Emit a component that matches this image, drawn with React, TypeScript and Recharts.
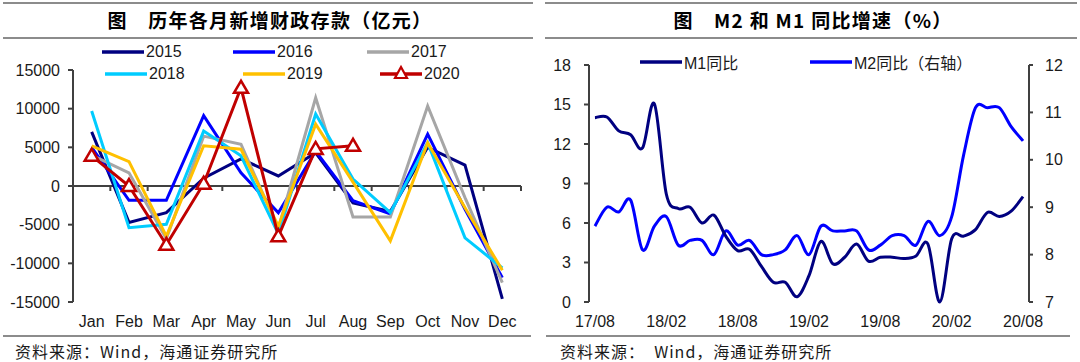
import React from 'react';
import { LineChart, Line, XAxis, YAxis, ReferenceLine } from 'recharts';

// ---------- Left chart data: 历年各月新增财政存款（亿元） ----------
const months = ['Jan', 'Feb', 'Mar', 'Apr', 'May', 'Jun', 'Jul', 'Aug', 'Sep', 'Oct', 'Nov', 'Dec'];
const years = ['2015', '2016', '2017', '2018', '2019', '2020'];
const s2015 = [7000, -4700, -3450, 1000, 3500, 1300, 4300, -2200, -3300, 5000, 2700, -14600];
const s2016 = [5000, -1850, -1850, 9100, 1700, -3450, 4500, -1900, -3600, 6700, -3000, -11850];
const s2017 = [4000, 1700, -6800, 6450, 5400, -5500, 11400, -4000, -4000, 10350, -1500, -12500];
const s2018 = [9700, -5400, -4950, 7100, 3900, -6200, 9300, 900, -3450, 5600, -6700, -10600];
const s2019 = [5200, 3150, -6500, 5200, 4750, -5200, 8000, 500, -7100, 5600, -2800, -10900];
const s2020 = [3900, 0, -7600, 300, 12700, -6500, 4800, 5200];
const leftTicks = [-15000, -10000, -5000, 0, 5000, 10000, 15000];

// ---------- Right chart data: M2 和 M1 同比增速（%） ----------
const periodTicks = ['17/08', '18/02', '18/08', '19/02', '19/08', '20/02', '20/08'];
const m1 = [14.0, 14.05, 13.0, 12.7, 11.7, 15.05, 8.2, 7.1, 7.2, 6.0, 6.6, 5.0, 3.9, 4.0, 2.7, 1.5, 1.5, 0.4, 2.0, 4.6, 2.9, 3.4, 4.4, 3.1, 3.4, 3.4, 3.3, 3.5, 4.4, 0.0, 4.8, 5.0, 5.5, 6.8, 6.5, 6.9, 8.0];
const m2 = [8.6, 9.0, 8.9, 9.15, 8.1, 8.6, 8.8, 8.2, 8.3, 8.3, 8.0, 8.5, 8.2, 8.3, 8.0, 8.0, 8.1, 8.4, 8.0, 8.6, 8.5, 8.5, 8.5, 8.1, 8.2, 8.4, 8.4, 8.2, 8.7, 8.4, 8.8, 10.1, 11.1, 11.1, 11.1, 10.7, 10.4];
const m1Ticks = [0, 3, 6, 9, 12, 15, 18];
const m2Ticks = [7, 8, 9, 10, 11, 12];

const seriesByYear: Record<string, number[]> = {
  '2015': s2015, '2016': s2016, '2017': s2017, '2018': s2018, '2019': s2019, '2020': s2020,
};
const yearColors: Record<string, string> = {
  '2015': '#000080', '2016': '#0000FF', '2017': '#A6A6A6', '2018': '#00CCFF', '2019': '#FFC000', '2020': '#C00000',
};

const leftData = months.map((m, i) => {
  const row: Record<string, number | null> = { m: i + 1 };
  years.forEach((y) => {
    const v = seriesByYear[y][i];
    row['y' + y] = v === undefined ? null : v;
  });
  return row;
});

const rightData = m1.map((v, i) => ({ i, m1: v, m2: m2[i] }));

const AXIS = '#404040';
const TXT = '#1a1a1a';
const NUMFONT = '"Liberation Sans", Arial, sans-serif';
const CJK = '"Noto Sans CJK SC", "Liberation Sans", sans-serif';
const MIXED = '"Liberation Sans", Arial, "Noto Sans CJK SC", sans-serif';

// Excel-like smoothing (uniform Catmull-Rom), as a d3-style curve factory
const smoothCurve: any = (context: any) => {
  let pts: number[][] = [];
  return {
    areaStart() {},
    areaEnd() {},
    lineStart() { pts = []; },
    lineEnd() {
      const n = pts.length;
      if (n === 0) return;
      context.moveTo(pts[0][0], pts[0][1]);
      if (n === 1) { context.lineTo(pts[0][0], pts[0][1]); return; }
      for (let i = 0; i < n - 1; i++) {
        const p0 = pts[i - 1] || pts[i];
        const p1 = pts[i];
        const p2 = pts[i + 1];
        const p3 = pts[i + 2] || pts[i + 1];
        context.bezierCurveTo(
          p1[0] + (p2[0] - p0[0]) / 6, p1[1] + (p2[1] - p0[1]) / 6,
          p2[0] - (p3[0] - p1[0]) / 6, p2[1] - (p3[1] - p1[1]) / 6,
          p2[0], p2[1],
        );
      }
    },
    point(x: number, y: number) { pts.push([+x, +y]); },
  };
};

const Tri = (props: any) => {
  const { cx, cy, index } = props;
  if (cx == null || cy == null || isNaN(cx) || isNaN(cy)) return <g key={'t' + index} />;
  return (
    <polygon
      key={'t' + index}
      points={`${cx},${cy - 7} ${cx - 7},${cy + 5} ${cx + 7},${cy + 5}`}
      fill="#fff"
      stroke="#C00000"
      strokeWidth={2.5}
    />
  );
};

const tickStyle = { fill: TXT, fontSize: 16, fontFamily: NUMFONT };

const Rule = ({ x, y, w }: { x: number; y: number; w: number }) => (
  <div style={{ position: 'absolute', left: x, top: y, width: w, height: 2, background: '#8c8c8c' }} />
);

const LegendItem = ({ x, y, color, label, tri, lineW = 42 }: any) => (
  <div style={{ position: 'absolute', left: x, top: y - 11, height: 22, display: 'flex', alignItems: 'center' }}>
    <svg width={lineW} height={22} style={{ display: 'block' }}>
      <line x1={0} y1={11} x2={lineW} y2={11} stroke={color} strokeWidth={3.5} />
      {tri ? (
        <polygon points={`${lineW / 2},${4} ${lineW / 2 - 6},${15} ${lineW / 2 + 6},${15}`} fill="#fff" stroke={color} strokeWidth={2.2} />
      ) : null}
    </svg>
    <span style={{ fontSize: 16, fontFamily: MIXED, color: TXT, marginLeft: 2, whiteSpace: 'nowrap' }}>{label}</span>
  </div>
);

const boundaries = [0.5, 1.5, 2.5, 3.5, 4.5, 5.5, 6.5, 7.5, 8.5, 9.5, 10.5, 11.5, 12.5];

export default function App() {
  return (
    <div style={{ position: 'absolute', left: 0, top: 0, width: 1080, height: 362, background: '#fff', overflow: 'hidden' }}>
      {/* Left panel header */}
      <Rule x={3} y={2} w={530} />
      <div style={{ position: 'absolute', left: 0, width: 540, top: 6, textAlign: 'center', fontFamily: CJK, fontWeight: 700, fontSize: 19, letterSpacing: 1.3, color: '#000', lineHeight: '28px' }}>
        图　历年各月新增财政存款（亿元）
      </div>
      <Rule x={3} y={37} w={530} />

      {/* Right panel header */}
      <Rule x={545} y={2} w={532} />
      <div style={{ position: 'absolute', left: 543, width: 540, top: 6, textAlign: 'center', fontFamily: CJK, fontWeight: 700, fontSize: 19, letterSpacing: 1.3, color: '#000', lineHeight: '28px' }}>
        图　M2 和 M1 同比增速（%）
      </div>
      <Rule x={545} y={37} w={532} />

      {/* Left chart */}
      <div style={{ position: 'absolute', left: 0, top: 0 }}>
        <LineChart width={540} height={362} data={leftData} margin={{ top: 70, right: 19, bottom: 0, left: 0 }}>
          <XAxis
            type="number"
            dataKey="m"
            domain={[0.5, 12.5]}
            ticks={months.map((_, i) => i + 1)}
            tickFormatter={(v: number) => months[v - 1]}
            interval={0}
            axisLine={false}
            tickLine={false}
            tickSize={0}
            tickMargin={14}
            height={60}
            tick={tickStyle}
          />
          <YAxis
            type="number"
            domain={[-15000, 15000]}
            ticks={leftTicks}
            interval={0}
            width={73}
            tickSize={5}
            tickMargin={8}
            axisLine={{ stroke: AXIS, strokeWidth: 2 }}
            tickLine={{ stroke: AXIS, strokeWidth: 2 }}
            tick={tickStyle}
          />
          <ReferenceLine y={0} stroke={AXIS} strokeWidth={2} />
          {boundaries.map((b) => (
            <ReferenceLine
              key={'b' + b}
              segment={[{ x: b, y: 0 }, { x: b, y: -650 }]}
              stroke={AXIS}
              strokeWidth={2}
              ifOverflow="visible"
            />
          ))}
          {years.map((y) => (
            <Line
              key={y}
              type="linear"
              dataKey={'y' + y}
              stroke={yearColors[y]}
              strokeWidth={3}
              dot={y === '2020' ? Tri : false}
              activeDot={false}
              connectNulls={false}
              isAnimationActive={false}
            />
          ))}
        </LineChart>
      </div>

      {/* Left legend */}
      <LegendItem x={102} y={52} color={yearColors['2015']} label="2015" />
      <LegendItem x={233} y={52} color={yearColors['2016']} label="2016" />
      <LegendItem x={367} y={52} color={yearColors['2017']} label="2017" />
      <LegendItem x={105} y={74} color={yearColors['2018']} label="2018" />
      <LegendItem x={243} y={74} color={yearColors['2019']} label="2019" />
      <LegendItem x={380} y={74} color={yearColors['2020']} label="2020" tri />

      {/* Right chart */}
      <div style={{ position: 'absolute', left: 540, top: 0 }}>
        <LineChart width={540} height={362} data={rightData} margin={{ top: 65, right: 0, bottom: 0, left: 0 }}>
          <XAxis
            xAxisId="t"
            type="number"
            dataKey="i"
            domain={[-0.5, 36.5]}
            ticks={[-0.5, 5.5, 11.5, 17.5, 23.5, 29.5, 35.5, 36.5]}
            interval={0}
            tick={false}
            tickSize={5}
            height={0}
            axisLine={{ stroke: AXIS, strokeWidth: 2 }}
            tickLine={{ stroke: AXIS, strokeWidth: 2 }}
          />
          <XAxis
            xAxisId="l"
            type="number"
            dataKey="i"
            domain={[-0.5, 36.5]}
            ticks={periodTicks.map((_, k) => k * 6)}
            tickFormatter={(v: number) => periodTicks[v / 6]}
            interval={0}
            axisLine={false}
            tickLine={false}
            tickSize={0}
            tickMargin={14}
            height={60}
            tick={tickStyle}
          />
          <YAxis
            yAxisId="left"
            orientation="left"
            type="number"
            domain={[0, 18]}
            ticks={m1Ticks}
            interval={0}
            width={49}
            tickSize={5}
            tickMargin={13}
            axisLine={{ stroke: AXIS, strokeWidth: 2 }}
            tickLine={{ stroke: AXIS, strokeWidth: 2 }}
            tick={tickStyle}
          />
          <YAxis
            yAxisId="right"
            orientation="right"
            type="number"
            domain={[7, 12]}
            ticks={m2Ticks}
            interval={0}
            width={51}
            tickSize={4}
            tickMargin={12}
            axisLine={{ stroke: AXIS, strokeWidth: 2 }}
            tickLine={{ stroke: AXIS, strokeWidth: 2 }}
            tick={tickStyle}
          />
          <Line
            xAxisId="t"
            yAxisId="right"
            type={smoothCurve}
            dataKey="m2"
            stroke="#0000FF"
            strokeWidth={3}
            dot={false}
            activeDot={false}
            isAnimationActive={false}
          />
          <Line
            xAxisId="t"
            yAxisId="left"
            type={smoothCurve}
            dataKey="m1"
            stroke="#000080"
            strokeWidth={3}
            dot={false}
            activeDot={false}
            isAnimationActive={false}
          />
        </LineChart>
      </div>

      {/* Right legend */}
      <LegendItem x={640} y={62} color="#000080" label="M1同比" />
      <LegendItem x={810} y={62} color="#0000FF" label="M2同比（右轴）" />

      {/* Footers */}
      <Rule x={3} y={335} w={528} />
      <Rule x={546} y={335} w={524} />
      <div style={{ position: 'absolute', left: 15, top: 341, fontFamily: CJK, fontSize: 16, letterSpacing: 1, color: TXT, lineHeight: '20px', whiteSpace: 'nowrap' }}>
        资料来源：Wind，海通证券研究所
      </div>
      <div style={{ position: 'absolute', left: 560, top: 341, fontFamily: CJK, fontSize: 16, letterSpacing: 1, color: TXT, lineHeight: '20px', whiteSpace: 'pre' }}>
        {'资料来源：  Wind，海通证券研究所'}
      </div>
    </div>
  );
}
